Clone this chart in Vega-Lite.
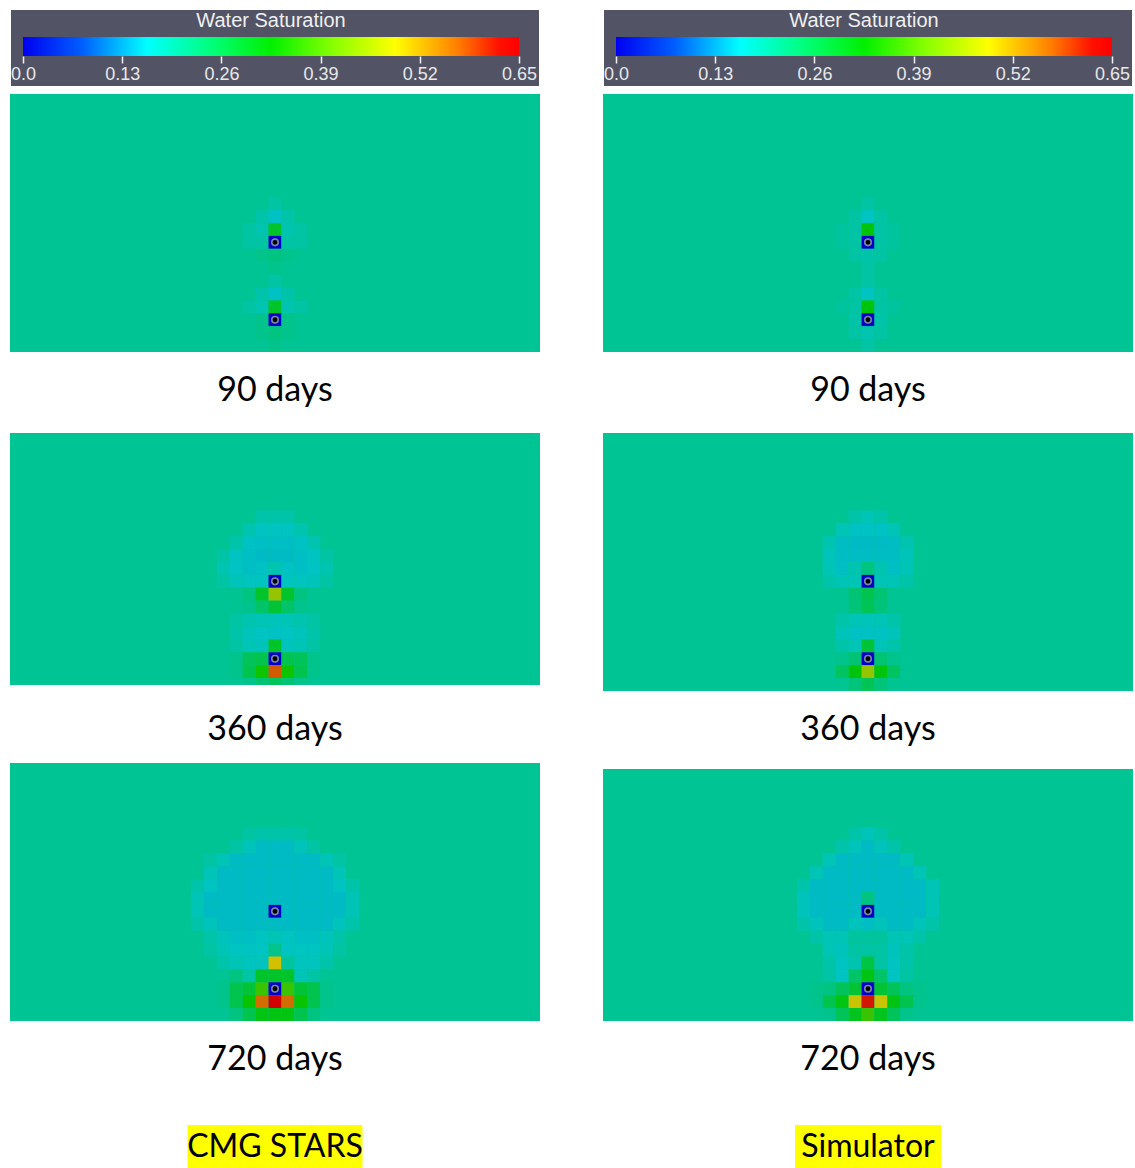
{
"$schema": "https://vega.github.io/schema/vega-lite/v6.json",
"padding": {"left": 10, "top": 10, "right": 0, "bottom": 0},
"background": "#ffffff",
"config": {"view": {"stroke": null}, "title": {"font": "Lato", "fontSize": 34, "fontWeight": "normal", "color": "#000000"}},
"datasets": {
"wells": [{"col":20,"row":11},{"col":20,"row":17}],
"bar": [{"lo":0,"hi":0.65,"name":"Water Saturation"}],
"L90": [{"col":20,"row":8,"sw":0.19},
{"col":19,"row":9,"sw":0.185},{"col":20,"row":9,"sw":0.16},{"col":21,"row":9,"sw":0.185},
{"col":18,"row":10,"sw":0.19},{"col":19,"row":10,"sw":0.18},{"col":20,"row":10,"sw":0.29},{"col":21,"row":10,"sw":0.18},{"col":22,"row":10,"sw":0.19},
{"col":18,"row":11,"sw":0.19},{"col":19,"row":11,"sw":0.19},{"col":20,"row":11,"sw":0},{"col":21,"row":11,"sw":0.19},{"col":22,"row":11,"sw":0.19},
{"col":19,"row":12,"sw":0.21},{"col":20,"row":12,"sw":0.22},{"col":21,"row":12,"sw":0.21},
{"col":20,"row":13,"sw":0.21},
{"col":20,"row":14,"sw":0.19},
{"col":19,"row":15,"sw":0.185},{"col":20,"row":15,"sw":0.16},{"col":21,"row":15,"sw":0.185},
{"col":18,"row":16,"sw":0.19},{"col":19,"row":16,"sw":0.18},{"col":20,"row":16,"sw":0.29},{"col":21,"row":16,"sw":0.18},{"col":22,"row":16,"sw":0.19},
{"col":19,"row":17,"sw":0.21},{"col":20,"row":17,"sw":0},{"col":21,"row":17,"sw":0.21},
{"col":19,"row":18,"sw":0.21},{"col":20,"row":18,"sw":0.22},{"col":21,"row":18,"sw":0.21},
{"col":20,"row":19,"sw":0.21}],
"R90": [{"col":20,"row":8,"sw":0.19},
{"col":19,"row":9,"sw":0.19},{"col":20,"row":9,"sw":0.165},{"col":21,"row":9,"sw":0.19},
{"col":18,"row":10,"sw":0.195},{"col":19,"row":10,"sw":0.19},{"col":20,"row":10,"sw":0.315},{"col":21,"row":10,"sw":0.19},{"col":22,"row":10,"sw":0.195},
{"col":18,"row":11,"sw":0.195},{"col":19,"row":11,"sw":0.19},{"col":20,"row":11,"sw":0},{"col":21,"row":11,"sw":0.19},{"col":22,"row":11,"sw":0.195},
{"col":19,"row":12,"sw":0.19},{"col":20,"row":12,"sw":0.185},{"col":21,"row":12,"sw":0.19},
{"col":20,"row":13,"sw":0.19},
{"col":20,"row":14,"sw":0.19},
{"col":19,"row":15,"sw":0.19},{"col":20,"row":15,"sw":0.165},{"col":21,"row":15,"sw":0.19},
{"col":18,"row":16,"sw":0.195},{"col":19,"row":16,"sw":0.19},{"col":20,"row":16,"sw":0.315},{"col":21,"row":16,"sw":0.19},{"col":22,"row":16,"sw":0.195},
{"col":19,"row":17,"sw":0.185},{"col":20,"row":17,"sw":0},{"col":21,"row":17,"sw":0.185},
{"col":19,"row":18,"sw":0.19},{"col":20,"row":18,"sw":0.18},{"col":21,"row":18,"sw":0.19},
{"col":20,"row":19,"sw":0.19}],
"L360": [{"col":19,"row":6,"sw":0.185},{"col":20,"row":6,"sw":0.185},{"col":21,"row":6,"sw":0.185},
{"col":18,"row":7,"sw":0.18},{"col":19,"row":7,"sw":0.165},{"col":20,"row":7,"sw":0.165},{"col":21,"row":7,"sw":0.165},{"col":22,"row":7,"sw":0.18},
{"col":17,"row":8,"sw":0.185},{"col":18,"row":8,"sw":0.16},{"col":19,"row":8,"sw":0.158},{"col":20,"row":8,"sw":0.158},{"col":21,"row":8,"sw":0.158},{"col":22,"row":8,"sw":0.16},{"col":23,"row":8,"sw":0.18},
{"col":16,"row":9,"sw":0.19},{"col":17,"row":9,"sw":0.165},{"col":18,"row":9,"sw":0.158},{"col":19,"row":9,"sw":0.155},{"col":20,"row":9,"sw":0.155},{"col":21,"row":9,"sw":0.155},{"col":22,"row":9,"sw":0.158},{"col":23,"row":9,"sw":0.165},{"col":24,"row":9,"sw":0.19},
{"col":16,"row":10,"sw":0.18},{"col":17,"row":10,"sw":0.163},{"col":18,"row":10,"sw":0.158},{"col":19,"row":10,"sw":0.16},{"col":20,"row":10,"sw":0.18},{"col":21,"row":10,"sw":0.16},{"col":22,"row":10,"sw":0.158},{"col":23,"row":10,"sw":0.163},{"col":24,"row":10,"sw":0.18},
{"col":16,"row":11,"sw":0.19},{"col":17,"row":11,"sw":0.172},{"col":18,"row":11,"sw":0.168},{"col":19,"row":11,"sw":0.168},{"col":20,"row":11,"sw":0},{"col":21,"row":11,"sw":0.168},{"col":22,"row":11,"sw":0.168},{"col":23,"row":11,"sw":0.172},{"col":24,"row":11,"sw":0.19},
{"col":17,"row":12,"sw":0.205},{"col":18,"row":12,"sw":0.22},{"col":19,"row":12,"sw":0.29},{"col":20,"row":12,"sw":0.44},{"col":21,"row":12,"sw":0.29},{"col":22,"row":12,"sw":0.22},{"col":23,"row":12,"sw":0.205},
{"col":18,"row":13,"sw":0.21},{"col":19,"row":13,"sw":0.24},{"col":20,"row":13,"sw":0.28},{"col":21,"row":13,"sw":0.24},{"col":22,"row":13,"sw":0.21},
{"col":17,"row":14,"sw":0.19},{"col":18,"row":14,"sw":0.18},{"col":19,"row":14,"sw":0.175},{"col":20,"row":14,"sw":0.172},{"col":21,"row":14,"sw":0.175},{"col":22,"row":14,"sw":0.18},{"col":23,"row":14,"sw":0.19},
{"col":17,"row":15,"sw":0.185},{"col":18,"row":15,"sw":0.17},{"col":19,"row":15,"sw":0.162},{"col":20,"row":15,"sw":0.16},{"col":21,"row":15,"sw":0.162},{"col":22,"row":15,"sw":0.17},{"col":23,"row":15,"sw":0.185},
{"col":17,"row":16,"sw":0.19},{"col":18,"row":16,"sw":0.175},{"col":19,"row":16,"sw":0.17},{"col":20,"row":16,"sw":0.29},{"col":21,"row":16,"sw":0.17},{"col":22,"row":16,"sw":0.175},{"col":23,"row":16,"sw":0.19},
{"col":17,"row":17,"sw":0.21},{"col":18,"row":17,"sw":0.25},{"col":19,"row":17,"sw":0.26},{"col":20,"row":17,"sw":0},{"col":21,"row":17,"sw":0.26},{"col":22,"row":17,"sw":0.25},{"col":23,"row":17,"sw":0.21},
{"col":17,"row":18,"sw":0.21},{"col":18,"row":18,"sw":0.26},{"col":19,"row":18,"sw":0.335},{"col":20,"row":18,"sw":0.575},{"col":21,"row":18,"sw":0.335},{"col":22,"row":18,"sw":0.26},{"col":23,"row":18,"sw":0.21},
{"col":18,"row":19,"sw":0.21},{"col":19,"row":19,"sw":0.23},{"col":20,"row":19,"sw":0.25},{"col":21,"row":19,"sw":0.23},{"col":22,"row":19,"sw":0.21}],
"R360": [{"col":19,"row":6,"sw":0.185},{"col":20,"row":6,"sw":0.175},{"col":21,"row":6,"sw":0.185},
{"col":18,"row":7,"sw":0.175},{"col":19,"row":7,"sw":0.16},{"col":20,"row":7,"sw":0.16},{"col":21,"row":7,"sw":0.16},{"col":22,"row":7,"sw":0.175},
{"col":17,"row":8,"sw":0.18},{"col":18,"row":8,"sw":0.157},{"col":19,"row":8,"sw":0.155},{"col":20,"row":8,"sw":0.155},{"col":21,"row":8,"sw":0.155},{"col":22,"row":8,"sw":0.157},{"col":23,"row":8,"sw":0.18},
{"col":17,"row":9,"sw":0.172},{"col":18,"row":9,"sw":0.157},{"col":19,"row":9,"sw":0.157},{"col":20,"row":9,"sw":0.157},{"col":21,"row":9,"sw":0.157},{"col":22,"row":9,"sw":0.157},{"col":23,"row":9,"sw":0.172},
{"col":17,"row":10,"sw":0.175},{"col":18,"row":10,"sw":0.158},{"col":19,"row":10,"sw":0.18},{"col":20,"row":10,"sw":0.22},{"col":21,"row":10,"sw":0.18},{"col":22,"row":10,"sw":0.158},{"col":23,"row":10,"sw":0.175},
{"col":17,"row":11,"sw":0.185},{"col":18,"row":11,"sw":0.175},{"col":19,"row":11,"sw":0.175},{"col":20,"row":11,"sw":0},{"col":21,"row":11,"sw":0.175},{"col":22,"row":11,"sw":0.175},{"col":23,"row":11,"sw":0.185},
{"col":18,"row":12,"sw":0.205},{"col":19,"row":12,"sw":0.23},{"col":20,"row":12,"sw":0.26},{"col":21,"row":12,"sw":0.23},{"col":22,"row":12,"sw":0.205},
{"col":19,"row":13,"sw":0.225},{"col":20,"row":13,"sw":0.255},{"col":21,"row":13,"sw":0.225},
{"col":18,"row":14,"sw":0.185},{"col":19,"row":14,"sw":0.175},{"col":20,"row":14,"sw":0.172},{"col":21,"row":14,"sw":0.175},{"col":22,"row":14,"sw":0.185},
{"col":18,"row":15,"sw":0.172},{"col":19,"row":15,"sw":0.16},{"col":20,"row":15,"sw":0.16},{"col":21,"row":15,"sw":0.16},{"col":22,"row":15,"sw":0.172},
{"col":18,"row":16,"sw":0.185},{"col":19,"row":16,"sw":0.175},{"col":20,"row":16,"sw":0.28},{"col":21,"row":16,"sw":0.175},{"col":22,"row":16,"sw":0.185},
{"col":18,"row":17,"sw":0.21},{"col":19,"row":17,"sw":0.23},{"col":20,"row":17,"sw":0},{"col":21,"row":17,"sw":0.23},{"col":22,"row":17,"sw":0.21},
{"col":17,"row":18,"sw":0.205},{"col":18,"row":18,"sw":0.245},{"col":19,"row":18,"sw":0.315},{"col":20,"row":18,"sw":0.44},{"col":21,"row":18,"sw":0.315},{"col":22,"row":18,"sw":0.245},{"col":23,"row":18,"sw":0.205},
{"col":18,"row":19,"sw":0.205},{"col":19,"row":19,"sw":0.225},{"col":20,"row":19,"sw":0.255},{"col":21,"row":19,"sw":0.225},{"col":22,"row":19,"sw":0.205}],
"L720": [{"col":18,"row":5,"sw":0.19},{"col":19,"row":5,"sw":0.185},{"col":20,"row":5,"sw":0.185},{"col":21,"row":5,"sw":0.185},{"col":22,"row":5,"sw":0.19},
{"col":17,"row":6,"sw":0.19},{"col":18,"row":6,"sw":0.172},{"col":19,"row":6,"sw":0.155},{"col":20,"row":6,"sw":0.155},{"col":21,"row":6,"sw":0.155},{"col":22,"row":6,"sw":0.172},{"col":23,"row":6,"sw":0.19},
{"col":15,"row":7,"sw":0.19},{"col":16,"row":7,"sw":0.175},{"col":17,"row":7,"sw":0.155},{"col":18,"row":7,"sw":0.155},{"col":19,"row":7,"sw":0.155},{"col":20,"row":7,"sw":0.155},{"col":21,"row":7,"sw":0.155},{"col":22,"row":7,"sw":0.155},{"col":23,"row":7,"sw":0.155},{"col":24,"row":7,"sw":0.175},{"col":25,"row":7,"sw":0.19},
{"col":15,"row":8,"sw":0.175},{"col":16,"row":8,"sw":0.155},{"col":17,"row":8,"sw":0.155},{"col":18,"row":8,"sw":0.155},{"col":19,"row":8,"sw":0.155},{"col":20,"row":8,"sw":0.155},{"col":21,"row":8,"sw":0.155},{"col":22,"row":8,"sw":0.155},{"col":23,"row":8,"sw":0.155},{"col":24,"row":8,"sw":0.155},{"col":25,"row":8,"sw":0.175},
{"col":14,"row":9,"sw":0.185},{"col":15,"row":9,"sw":0.165},{"col":16,"row":9,"sw":0.155},{"col":17,"row":9,"sw":0.155},{"col":18,"row":9,"sw":0.155},{"col":19,"row":9,"sw":0.155},{"col":20,"row":9,"sw":0.155},{"col":21,"row":9,"sw":0.155},{"col":22,"row":9,"sw":0.155},{"col":23,"row":9,"sw":0.155},{"col":24,"row":9,"sw":0.155},{"col":25,"row":9,"sw":0.165},{"col":26,"row":9,"sw":0.185},
{"col":14,"row":10,"sw":0.175},{"col":15,"row":10,"sw":0.155},{"col":16,"row":10,"sw":0.155},{"col":17,"row":10,"sw":0.155},{"col":18,"row":10,"sw":0.155},{"col":19,"row":10,"sw":0.155},{"col":20,"row":10,"sw":0.155},{"col":21,"row":10,"sw":0.155},{"col":22,"row":10,"sw":0.155},{"col":23,"row":10,"sw":0.155},{"col":24,"row":10,"sw":0.155},{"col":25,"row":10,"sw":0.155},{"col":26,"row":10,"sw":0.175},
{"col":14,"row":11,"sw":0.175},{"col":15,"row":11,"sw":0.155},{"col":16,"row":11,"sw":0.155},{"col":17,"row":11,"sw":0.155},{"col":18,"row":11,"sw":0.155},{"col":19,"row":11,"sw":0.155},{"col":20,"row":11,"sw":0},{"col":21,"row":11,"sw":0.155},{"col":22,"row":11,"sw":0.155},{"col":23,"row":11,"sw":0.155},{"col":24,"row":11,"sw":0.155},{"col":25,"row":11,"sw":0.155},{"col":26,"row":11,"sw":0.175},
{"col":14,"row":12,"sw":0.185},{"col":15,"row":12,"sw":0.17},{"col":16,"row":12,"sw":0.155},{"col":17,"row":12,"sw":0.155},{"col":18,"row":12,"sw":0.155},{"col":19,"row":12,"sw":0.155},{"col":20,"row":12,"sw":0.155},{"col":21,"row":12,"sw":0.155},{"col":22,"row":12,"sw":0.155},{"col":23,"row":12,"sw":0.155},{"col":24,"row":12,"sw":0.155},{"col":25,"row":12,"sw":0.17},{"col":26,"row":12,"sw":0.185},
{"col":15,"row":13,"sw":0.185},{"col":16,"row":13,"sw":0.17},{"col":17,"row":13,"sw":0.158},{"col":18,"row":13,"sw":0.158},{"col":19,"row":13,"sw":0.165},{"col":20,"row":13,"sw":0.175},{"col":21,"row":13,"sw":0.165},{"col":22,"row":13,"sw":0.158},{"col":23,"row":13,"sw":0.158},{"col":24,"row":13,"sw":0.17},{"col":25,"row":13,"sw":0.185},
{"col":15,"row":14,"sw":0.19},{"col":16,"row":14,"sw":0.175},{"col":17,"row":14,"sw":0.165},{"col":18,"row":14,"sw":0.165},{"col":19,"row":14,"sw":0.165},{"col":20,"row":14,"sw":0.21},{"col":21,"row":14,"sw":0.165},{"col":22,"row":14,"sw":0.165},{"col":23,"row":14,"sw":0.165},{"col":24,"row":14,"sw":0.175},{"col":25,"row":14,"sw":0.19},
{"col":16,"row":15,"sw":0.185},{"col":17,"row":15,"sw":0.175},{"col":18,"row":15,"sw":0.168},{"col":19,"row":15,"sw":0.168},{"col":20,"row":15,"sw":0.49},{"col":21,"row":15,"sw":0.195},{"col":22,"row":15,"sw":0.168},{"col":23,"row":15,"sw":0.168},{"col":24,"row":15,"sw":0.185},
{"col":16,"row":16,"sw":0.205},{"col":17,"row":16,"sw":0.22},{"col":18,"row":16,"sw":0.19},{"col":19,"row":16,"sw":0.29},{"col":20,"row":16,"sw":0.29},{"col":21,"row":16,"sw":0.29},{"col":22,"row":16,"sw":0.175},{"col":23,"row":16,"sw":0.19},
{"col":16,"row":17,"sw":0.21},{"col":17,"row":17,"sw":0.26},{"col":18,"row":17,"sw":0.28},{"col":19,"row":17,"sw":0.37},{"col":20,"row":17,"sw":0},{"col":21,"row":17,"sw":0.37},{"col":22,"row":17,"sw":0.28},{"col":23,"row":17,"sw":0.26},{"col":24,"row":17,"sw":0.21},
{"col":16,"row":18,"sw":0.21},{"col":17,"row":18,"sw":0.26},{"col":18,"row":18,"sw":0.33},{"col":19,"row":18,"sw":0.56},{"col":20,"row":18,"sw":0.65},{"col":21,"row":18,"sw":0.56},{"col":22,"row":18,"sw":0.33},{"col":23,"row":18,"sw":0.26},{"col":24,"row":18,"sw":0.21},
{"col":17,"row":19,"sw":0.22},{"col":18,"row":19,"sw":0.26},{"col":19,"row":19,"sw":0.31},{"col":20,"row":19,"sw":0.31},{"col":21,"row":19,"sw":0.31},{"col":22,"row":19,"sw":0.26},{"col":23,"row":19,"sw":0.22}],
"R720": [{"col":19,"row":5,"sw":0.185},{"col":20,"row":5,"sw":0.172},{"col":21,"row":5,"sw":0.185},
{"col":18,"row":6,"sw":0.185},{"col":19,"row":6,"sw":0.17},{"col":20,"row":6,"sw":0.155},{"col":21,"row":6,"sw":0.17},{"col":22,"row":6,"sw":0.185},
{"col":17,"row":7,"sw":0.175},{"col":18,"row":7,"sw":0.155},{"col":19,"row":7,"sw":0.155},{"col":20,"row":7,"sw":0.155},{"col":21,"row":7,"sw":0.155},{"col":22,"row":7,"sw":0.155},{"col":23,"row":7,"sw":0.175},
{"col":16,"row":8,"sw":0.175},{"col":17,"row":8,"sw":0.155},{"col":18,"row":8,"sw":0.155},{"col":19,"row":8,"sw":0.155},{"col":20,"row":8,"sw":0.155},{"col":21,"row":8,"sw":0.155},{"col":22,"row":8,"sw":0.155},{"col":23,"row":8,"sw":0.155},{"col":24,"row":8,"sw":0.175},
{"col":15,"row":9,"sw":0.185},{"col":16,"row":9,"sw":0.155},{"col":17,"row":9,"sw":0.155},{"col":18,"row":9,"sw":0.155},{"col":19,"row":9,"sw":0.155},{"col":20,"row":9,"sw":0.155},{"col":21,"row":9,"sw":0.155},{"col":22,"row":9,"sw":0.155},{"col":23,"row":9,"sw":0.155},{"col":24,"row":9,"sw":0.155},{"col":25,"row":9,"sw":0.175},
{"col":15,"row":10,"sw":0.17},{"col":16,"row":10,"sw":0.155},{"col":17,"row":10,"sw":0.155},{"col":18,"row":10,"sw":0.155},{"col":19,"row":10,"sw":0.155},{"col":20,"row":10,"sw":0.22},{"col":21,"row":10,"sw":0.155},{"col":22,"row":10,"sw":0.155},{"col":23,"row":10,"sw":0.155},{"col":24,"row":10,"sw":0.155},{"col":25,"row":10,"sw":0.175},
{"col":15,"row":11,"sw":0.17},{"col":16,"row":11,"sw":0.155},{"col":17,"row":11,"sw":0.155},{"col":18,"row":11,"sw":0.155},{"col":19,"row":11,"sw":0.155},{"col":20,"row":11,"sw":0},{"col":21,"row":11,"sw":0.155},{"col":22,"row":11,"sw":0.155},{"col":23,"row":11,"sw":0.155},{"col":24,"row":11,"sw":0.155},{"col":25,"row":11,"sw":0.175},
{"col":15,"row":12,"sw":0.185},{"col":16,"row":12,"sw":0.17},{"col":17,"row":12,"sw":0.155},{"col":18,"row":12,"sw":0.155},{"col":19,"row":12,"sw":0.17},{"col":20,"row":12,"sw":0.158},{"col":21,"row":12,"sw":0.17},{"col":22,"row":12,"sw":0.155},{"col":23,"row":12,"sw":0.155},{"col":24,"row":12,"sw":0.17},{"col":25,"row":12,"sw":0.185},
{"col":16,"row":13,"sw":0.185},{"col":17,"row":13,"sw":0.175},{"col":18,"row":13,"sw":0.175},{"col":19,"row":13,"sw":0.195},{"col":20,"row":13,"sw":0.195},{"col":21,"row":13,"sw":0.195},{"col":22,"row":13,"sw":0.175},{"col":23,"row":13,"sw":0.175},{"col":24,"row":13,"sw":0.185},
{"col":17,"row":14,"sw":0.175},{"col":18,"row":14,"sw":0.17},{"col":19,"row":14,"sw":0.19},{"col":20,"row":14,"sw":0.19},{"col":21,"row":14,"sw":0.19},{"col":22,"row":14,"sw":0.17},{"col":23,"row":14,"sw":0.185},
{"col":17,"row":15,"sw":0.185},{"col":18,"row":15,"sw":0.165},{"col":19,"row":15,"sw":0.18},{"col":20,"row":15,"sw":0.27},{"col":21,"row":15,"sw":0.19},{"col":22,"row":15,"sw":0.165},{"col":23,"row":15,"sw":0.185},
{"col":17,"row":16,"sw":0.19},{"col":18,"row":16,"sw":0.165},{"col":19,"row":16,"sw":0.24},{"col":20,"row":16,"sw":0.31},{"col":21,"row":16,"sw":0.24},{"col":22,"row":16,"sw":0.165},{"col":23,"row":16,"sw":0.19},
{"col":16,"row":17,"sw":0.21},{"col":17,"row":17,"sw":0.22},{"col":18,"row":17,"sw":0.25},{"col":19,"row":17,"sw":0.28},{"col":20,"row":17,"sw":0},{"col":21,"row":17,"sw":0.28},{"col":22,"row":17,"sw":0.25},{"col":23,"row":17,"sw":0.22},{"col":24,"row":17,"sw":0.21},
{"col":16,"row":18,"sw":0.21},{"col":17,"row":18,"sw":0.26},{"col":18,"row":18,"sw":0.31},{"col":19,"row":18,"sw":0.48},{"col":20,"row":18,"sw":0.63},{"col":21,"row":18,"sw":0.48},{"col":22,"row":18,"sw":0.31},{"col":23,"row":18,"sw":0.26},{"col":24,"row":18,"sw":0.21},
{"col":17,"row":19,"sw":0.21},{"col":18,"row":19,"sw":0.25},{"col":19,"row":19,"sw":0.3},{"col":20,"row":19,"sw":0.37},{"col":21,"row":19,"sw":0.3},{"col":22,"row":19,"sw":0.25},{"col":23,"row":19,"sw":0.21}]
},
"spacing": 63,
"hconcat": [
{"bounds": "flush", "spacing": 8, "center": true, "vconcat": [
 {"width": 528, "height": 76, "view": {"fill": "#525466", "stroke": null}, "data": {"name": "bar"},
  "layer": [
   {"mark": {"type": "rect", "fill": {"gradient": "linear", "x1": 0, "y1": 0, "x2": 1, "y2": 0, "stops": [{"offset": 0, "color": "#0000f0"}, {"offset": 0.12, "color": "#0060ff"}, {"offset": 0.25, "color": "#00ffff"}, {"offset": 0.375, "color": "#00ff80"}, {"offset": 0.5, "color": "#00f000"}, {"offset": 0.625, "color": "#88ff00"}, {"offset": 0.75, "color": "#ffff00"}, {"offset": 0.875, "color": "#ff8000"}, {"offset": 0.96, "color": "#ff1000"}, {"offset": 1, "color": "#ff0000"}]}},
    "encoding": {
     "x": {"field": "lo", "type": "quantitative", "scale": {"domain": [-0.01573, 0.67621], "nice": false, "zero": false},
       "axis": {"orient": "bottom", "offset": -30, "values": [0, 0.13, 0.26, 0.39, 0.52, 0.65], "labelExpr": "datum.value == 0 ? '0.0' : format(datum.value, '.2f')", "domain": false, "grid": false, "tickColor": "#f0f0f0", "tickSize": 7, "tickWidth": 1.5, "labelColor": "#e8e8e8", "labelFont": "Liberation Sans", "labelFontSize": 18, "labelPadding": 2, "labelFlush": false, "labelOverlap": false, "labelBound": false, "title": null}},
     "x2": {"field": "hi"},
     "y": {"datum": 27, "type": "quantitative", "scale": {"domain": [0, 76], "reverse": true, "nice": false, "zero": false}, "axis": null},
     "y2": {"datum": 46}}},
   {"mark": {"type": "text", "color": "#f0f0f0", "font": "Liberation Sans", "fontSize": 20},
    "encoding": {"x": {"datum": 0.325, "type": "quantitative"}, "y": {"datum": 11, "type": "quantitative"}, "text": {"field": "name"}}}
  ]},
 {"width": 530, "height": 258, "view": {"fill": "#00c494", "stroke": null}, "title": {"text": "90 days", "orient": "bottom", "offset": 22},
  "layer": [
   {"data": {"name": "L90"}, "mark": {"type": "rect", "clip": true},
    "encoding": {
     "x": {"field": "col", "type": "ordinal", "scale": {"domain": [0,1,2,3,4,5,6,7,8,9,10,11,12,13,14,15,16,17,18,19,20,21,22,23,24,25,26,27,28,29,30,31,32,33,34,35,36,37,38,39,40], "paddingInner": 0, "paddingOuter": 0}, "axis": null},
     "y": {"field": "row", "type": "ordinal", "scale": {"domain": [0,1,2,3,4,5,6,7,8,9,10,11,12,13,14,15,16,17,18,19], "paddingInner": 0, "paddingOuter": 0}, "axis": null},
     "color": {"field": "sw", "type": "quantitative", "scale": {"type": "linear", "domain": [0, 0.1625, 0.325, 0.4875, 0.65], "range": ["#0000c8", "#00c4c4", "#00c400", "#d2c400", "#d20000"], "interpolate": "rgb", "nice": false, "zero": false}, "legend": null}}},
   {"data": {"name": "wells"}, "mark": {"type": "point", "shape": "circle", "filled": true, "fill": "#000000", "stroke": "#7a84a8", "strokeWidth": 1.6, "size": 42, "opacity": 1},
    "encoding": {"x": {"field": "col", "type": "ordinal"}, "y": {"field": "row", "type": "ordinal"}}}
  ]},
 {"width": 530, "height": 65, "data": {"values": []}, "mark": "rect"},
 {"width": 530, "height": 252, "view": {"fill": "#00c494", "stroke": null}, "title": {"text": "360 days", "orient": "bottom", "offset": 28},
  "layer": [
   {"data": {"name": "L360"}, "mark": {"type": "rect", "clip": true},
    "encoding": {
     "x": {"field": "col", "type": "ordinal", "scale": {"domain": [0,1,2,3,4,5,6,7,8,9,10,11,12,13,14,15,16,17,18,19,20,21,22,23,24,25,26,27,28,29,30,31,32,33,34,35,36,37,38,39,40], "paddingInner": 0, "paddingOuter": 0}, "axis": null},
     "y": {"field": "row", "type": "ordinal", "scale": {"domain": [0,1,2,3,4,5,6,7,8,9,10,11,12,13,14,15,16,17,18,19], "range": [0, 258], "paddingInner": 0, "paddingOuter": 0}, "axis": null},
     "color": {"field": "sw", "type": "quantitative", "scale": {"type": "linear", "domain": [0, 0.1625, 0.325, 0.4875, 0.65], "range": ["#0000c8", "#00c4c4", "#00c400", "#d2c400", "#d20000"], "interpolate": "rgb", "nice": false, "zero": false}, "legend": null}}},
   {"data": {"name": "wells"}, "mark": {"type": "point", "shape": "circle", "filled": true, "fill": "#000000", "stroke": "#7a84a8", "strokeWidth": 1.6, "size": 42, "opacity": 1},
    "encoding": {"x": {"field": "col", "type": "ordinal"}, "y": {"field": "row", "type": "ordinal"}}}
  ]},
 {"width": 530, "height": 62, "data": {"values": []}, "mark": "rect"},
 {"width": 530, "height": 258, "view": {"fill": "#00c494", "stroke": null}, "title": {"text": "720 days", "orient": "bottom", "offset": 22},
  "layer": [
   {"data": {"name": "L720"}, "mark": {"type": "rect", "clip": true},
    "encoding": {
     "x": {"field": "col", "type": "ordinal", "scale": {"domain": [0,1,2,3,4,5,6,7,8,9,10,11,12,13,14,15,16,17,18,19,20,21,22,23,24,25,26,27,28,29,30,31,32,33,34,35,36,37,38,39,40], "paddingInner": 0, "paddingOuter": 0}, "axis": null},
     "y": {"field": "row", "type": "ordinal", "scale": {"domain": [0,1,2,3,4,5,6,7,8,9,10,11,12,13,14,15,16,17,18,19], "paddingInner": 0, "paddingOuter": 0}, "axis": null},
     "color": {"field": "sw", "type": "quantitative", "scale": {"type": "linear", "domain": [0, 0.1625, 0.325, 0.4875, 0.65], "range": ["#0000c8", "#00c4c4", "#00c400", "#d2c400", "#d20000"], "interpolate": "rgb", "nice": false, "zero": false}, "legend": null}}},
   {"data": {"name": "wells"}, "mark": {"type": "point", "shape": "circle", "filled": true, "fill": "#000000", "stroke": "#7a84a8", "strokeWidth": 1.6, "size": 42, "opacity": 1},
    "encoding": {"x": {"field": "col", "type": "ordinal"}, "y": {"field": "row", "type": "ordinal"}}}
  ]},
 {"width": 530, "height": 88, "data": {"values": []}, "mark": "rect"},
 {"width": 175, "height": 43, "view": {"fill": "#ffff00", "stroke": null}, "data": {"values": [{"label": "CMG STARS"}]},
  "mark": {"type": "text", "font": "Lato", "fontSize": 32, "color": "#000000"}, "encoding": {"text": {"field": "label"}}}
]},
{"bounds": "flush", "spacing": 8, "center": true, "vconcat": [
 {"width": 528, "height": 76, "view": {"fill": "#525466", "stroke": null}, "data": {"name": "bar"},
  "layer": [
   {"mark": {"type": "rect", "fill": {"gradient": "linear", "x1": 0, "y1": 0, "x2": 1, "y2": 0, "stops": [{"offset": 0, "color": "#0000f0"}, {"offset": 0.12, "color": "#0060ff"}, {"offset": 0.25, "color": "#00ffff"}, {"offset": 0.375, "color": "#00ff80"}, {"offset": 0.5, "color": "#00f000"}, {"offset": 0.625, "color": "#88ff00"}, {"offset": 0.75, "color": "#ffff00"}, {"offset": 0.875, "color": "#ff8000"}, {"offset": 0.96, "color": "#ff1000"}, {"offset": 1, "color": "#ff0000"}]}},
    "encoding": {
     "x": {"field": "lo", "type": "quantitative", "scale": {"domain": [-0.01573, 0.67621], "nice": false, "zero": false},
       "axis": {"orient": "bottom", "offset": -30, "values": [0, 0.13, 0.26, 0.39, 0.52, 0.65], "labelExpr": "datum.value == 0 ? '0.0' : format(datum.value, '.2f')", "domain": false, "grid": false, "tickColor": "#f0f0f0", "tickSize": 7, "tickWidth": 1.5, "labelColor": "#e8e8e8", "labelFont": "Liberation Sans", "labelFontSize": 18, "labelPadding": 2, "labelFlush": false, "labelOverlap": false, "labelBound": false, "title": null}},
     "x2": {"field": "hi"},
     "y": {"datum": 27, "type": "quantitative", "scale": {"domain": [0, 76], "reverse": true, "nice": false, "zero": false}, "axis": null},
     "y2": {"datum": 46}}},
   {"mark": {"type": "text", "color": "#f0f0f0", "font": "Liberation Sans", "fontSize": 20},
    "encoding": {"x": {"datum": 0.325, "type": "quantitative"}, "y": {"datum": 11, "type": "quantitative"}, "text": {"field": "name"}}}
  ]},
 {"width": 530, "height": 258, "view": {"fill": "#00c494", "stroke": null}, "title": {"text": "90 days", "orient": "bottom", "offset": 22},
  "layer": [
   {"data": {"name": "R90"}, "mark": {"type": "rect", "clip": true},
    "encoding": {
     "x": {"field": "col", "type": "ordinal", "scale": {"domain": [0,1,2,3,4,5,6,7,8,9,10,11,12,13,14,15,16,17,18,19,20,21,22,23,24,25,26,27,28,29,30,31,32,33,34,35,36,37,38,39,40], "paddingInner": 0, "paddingOuter": 0}, "axis": null},
     "y": {"field": "row", "type": "ordinal", "scale": {"domain": [0,1,2,3,4,5,6,7,8,9,10,11,12,13,14,15,16,17,18,19], "paddingInner": 0, "paddingOuter": 0}, "axis": null},
     "color": {"field": "sw", "type": "quantitative", "scale": {"type": "linear", "domain": [0, 0.1625, 0.325, 0.4875, 0.65], "range": ["#0000c8", "#00c4c4", "#00c400", "#d2c400", "#d20000"], "interpolate": "rgb", "nice": false, "zero": false}, "legend": null}}},
   {"data": {"name": "wells"}, "mark": {"type": "point", "shape": "circle", "filled": true, "fill": "#000000", "stroke": "#7a84a8", "strokeWidth": 1.6, "size": 42, "opacity": 1},
    "encoding": {"x": {"field": "col", "type": "ordinal"}, "y": {"field": "row", "type": "ordinal"}}}
  ]},
 {"width": 530, "height": 65, "data": {"values": []}, "mark": "rect"},
 {"width": 530, "height": 258, "view": {"fill": "#00c494", "stroke": null}, "title": {"text": "360 days", "orient": "bottom", "offset": 22},
  "layer": [
   {"data": {"name": "R360"}, "mark": {"type": "rect", "clip": true},
    "encoding": {
     "x": {"field": "col", "type": "ordinal", "scale": {"domain": [0,1,2,3,4,5,6,7,8,9,10,11,12,13,14,15,16,17,18,19,20,21,22,23,24,25,26,27,28,29,30,31,32,33,34,35,36,37,38,39,40], "paddingInner": 0, "paddingOuter": 0}, "axis": null},
     "y": {"field": "row", "type": "ordinal", "scale": {"domain": [0,1,2,3,4,5,6,7,8,9,10,11,12,13,14,15,16,17,18,19], "paddingInner": 0, "paddingOuter": 0}, "axis": null},
     "color": {"field": "sw", "type": "quantitative", "scale": {"type": "linear", "domain": [0, 0.1625, 0.325, 0.4875, 0.65], "range": ["#0000c8", "#00c4c4", "#00c400", "#d2c400", "#d20000"], "interpolate": "rgb", "nice": false, "zero": false}, "legend": null}}},
   {"data": {"name": "wells"}, "mark": {"type": "point", "shape": "circle", "filled": true, "fill": "#000000", "stroke": "#7a84a8", "strokeWidth": 1.6, "size": 42, "opacity": 1},
    "encoding": {"x": {"field": "col", "type": "ordinal"}, "y": {"field": "row", "type": "ordinal"}}}
  ]},
 {"width": 530, "height": 62, "data": {"values": []}, "mark": "rect"},
 {"width": 530, "height": 252, "view": {"fill": "#00c494", "stroke": null}, "title": {"text": "720 days", "orient": "bottom", "offset": 22},
  "layer": [
   {"data": {"name": "R720"}, "mark": {"type": "rect", "clip": true},
    "encoding": {
     "x": {"field": "col", "type": "ordinal", "scale": {"domain": [0,1,2,3,4,5,6,7,8,9,10,11,12,13,14,15,16,17,18,19,20,21,22,23,24,25,26,27,28,29,30,31,32,33,34,35,36,37,38,39,40], "paddingInner": 0, "paddingOuter": 0}, "axis": null},
     "y": {"field": "row", "type": "ordinal", "scale": {"domain": [0,1,2,3,4,5,6,7,8,9,10,11,12,13,14,15,16,17,18,19], "range": [-6, 252], "paddingInner": 0, "paddingOuter": 0}, "axis": null},
     "color": {"field": "sw", "type": "quantitative", "scale": {"type": "linear", "domain": [0, 0.1625, 0.325, 0.4875, 0.65], "range": ["#0000c8", "#00c4c4", "#00c400", "#d2c400", "#d20000"], "interpolate": "rgb", "nice": false, "zero": false}, "legend": null}}},
   {"data": {"name": "wells"}, "mark": {"type": "point", "shape": "circle", "filled": true, "fill": "#000000", "stroke": "#7a84a8", "strokeWidth": 1.6, "size": 42, "opacity": 1},
    "encoding": {"x": {"field": "col", "type": "ordinal"}, "y": {"field": "row", "type": "ordinal"}}}
  ]},
 {"width": 530, "height": 88, "data": {"values": []}, "mark": "rect"},
 {"width": 146, "height": 43, "view": {"fill": "#ffff00", "stroke": null}, "data": {"values": [{"label": "Simulator"}]},
  "mark": {"type": "text", "font": "Lato", "fontSize": 32, "color": "#000000"}, "encoding": {"text": {"field": "label"}}}
]}
]
}
